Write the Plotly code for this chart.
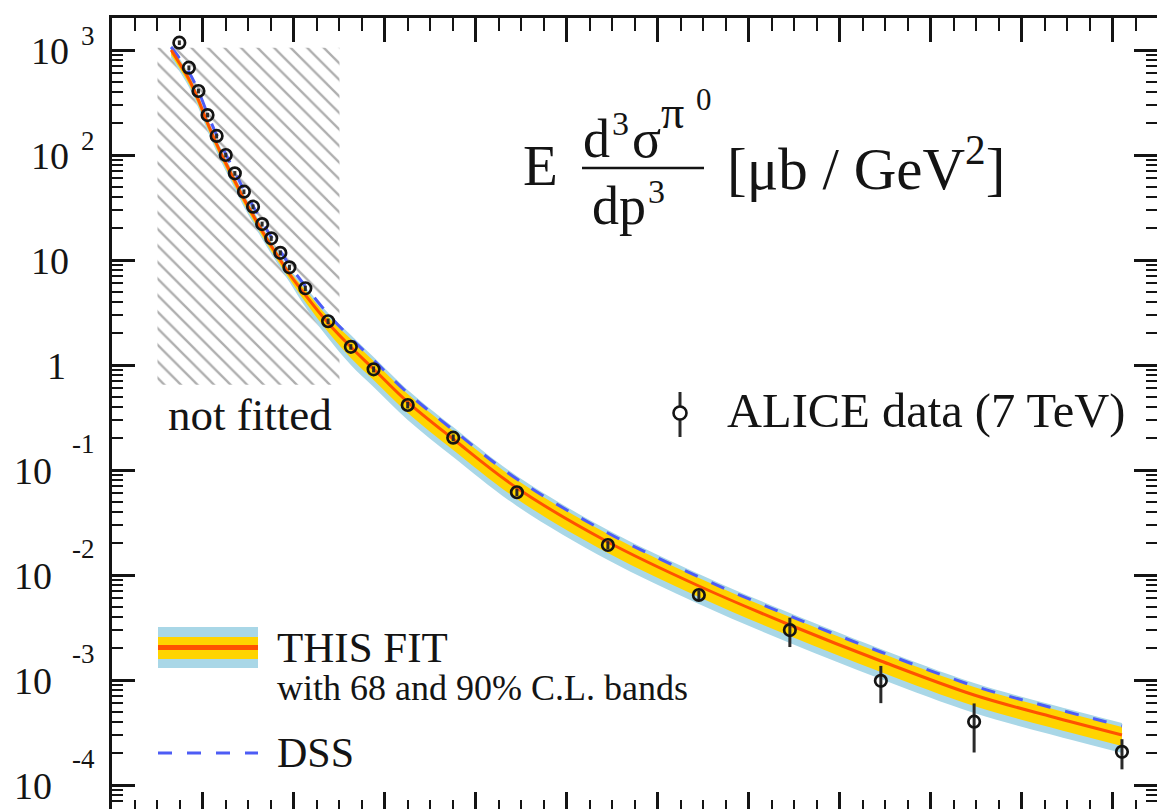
import math
import plotly.graph_objects as go

# ---------------- data ----------------
# ALICE pi0 invariant cross section at sqrt(s) = 7 TeV  [mub / GeV^2]
pt_data = [1.48, 1.69, 1.9, 2.1, 2.3, 2.5, 2.7, 2.9, 3.1, 3.3, 3.5, 3.7, 3.9,
           4.25, 4.75, 5.25, 5.75, 6.5, 7.5, 8.9, 10.9, 12.9, 14.9, 16.9, 18.95, 22.2]
xsec_data = [1174, 678, 407, 240, 152, 100, 66.9, 44.7, 32.2, 22.0, 16.1, 11.7, 8.52,
             5.38, 2.61, 1.49, 0.910, 0.416, 0.203, 0.0614, 0.0193, 0.00645, 0.00299,
             0.000982, 0.000401, 0.000207]
xsec_err = [60, 35, 21, 12, 8, 5, 3.4, 2.3, 1.7, 1.2, 0.9, 0.65, 0.5,
            0.32, 0.16, 0.09, 0.06, 0.03, 0.015, 0.005, 0.0017, 0.0007, 0.00093,
            0.00038, 0.000197, 0.000066]

# fit result (central value, 68% and 90% C.L. bands) and DSS
pt_curve = [1.3, 1.48, 1.69, 1.9, 2.1, 2.3, 2.5, 2.7, 2.9, 3.1, 3.3, 3.5, 3.7, 3.9,
            4.25, 4.75, 5.25, 5.75, 6.5, 7.5, 8.9, 10.9, 12.9, 14.9, 16.9, 18.95, 20.6, 22.2]
fit_central = [1000, 751.8, 529.4, 334.1, 201.7, 127.3, 83.9, 56.55, 38.11, 26.83, 18.89, 13.59, 10.0, 7.356,
               4.642, 2.512, 1.484, 0.9161, 0.4441, 0.1973, 0.06741, 0.02063, 0.007858, 0.003341,
               0.001517, 0.0007197, 0.000454, 0.0002994]
band68_hi = [1068, 802.9, 565.4, 356.8, 215.4, 136.0, 89.6, 60.4, 40.70, 28.65, 20.17, 14.51, 10.68, 7.856,
             5.180, 2.865, 1.769, 1.092, 0.5294, 0.2352, 0.08035, 0.02459, 0.009367, 0.003982,
             0.001808, 0.0008579, 0.0005412, 0.0003569]
band68_lo = [896, 673.6, 474.3, 299.4, 180.7, 114.1, 75.2, 50.67, 34.15, 24.04, 16.93, 12.18, 8.96, 6.591,
             3.981, 2.062, 1.166, 0.7197, 0.3489, 0.1550, 0.05296, 0.01621, 0.006173, 0.002625,
             0.001192, 0.0005654, 0.0003567, 0.0002352]
band90_hi = [1116, 839.0, 590.8, 372.9, 225.1, 142.1, 93.6, 63.1, 42.53, 29.94, 21.08, 15.17, 11.16, 8.209,
             5.533, 3.127, 1.931, 1.192, 0.5778, 0.2567, 0.0877, 0.02684, 0.01022, 0.004347,
             0.001974, 0.0009363, 0.0005907, 0.0003895]
band90_lo = [839.1, 630.8, 444.2, 280.3, 169.2, 106.8, 70.4, 47.45, 31.98, 22.51, 15.85, 11.40, 8.391, 6.172,
             3.568, 1.808, 1.000, 0.6175, 0.2993, 0.1330, 0.04543, 0.01390, 0.005296, 0.002252,
             0.001022, 0.0004851, 0.000306, 0.0002018]
dss = [1068, 839, 617, 407, 245.7, 155.0, 102.2, 68.9, 46.4, 32.7, 23.0, 16.55, 12.18, 8.96,
       5.65, 3.06, 1.808, 1.116, 0.541, 0.2403, 0.0821, 0.02513, 0.00957, 0.00407,
       0.001848, 0.000877, 0.000553, 0.0003647]

# region excluded from the fit
not_fitted_pt = [1.0, 5.0]
not_fitted_xsec = [0.65, 1050]

# axis decades and their labels
decade_vals = [1e3, 1e2, 1e1, 1, 1e-1, 1e-2, 1e-3, 1e-4]
decade_base = ["10", "10", "10", "1", "10", "10", "10", "10"]
decade_exp = ["3", "2", "", "", "-1", "-2", "-3", "-4"]

X_RANGE = [0, 22.97]
Y_RANGE = [-4.2286, 3.3048]

# ---------------- style ----------------
SERIF = "Liberation Serif, Times New Roman, serif"
INK = "#141414"
C90 = "#A9D7E7"
C68 = "#FFD400"
CFIT = "#FF5200"
CDSS = "#4D5CF5"
DSS_DASH = "14px,15px"

W, H = 1157, 809
PL, PT_, PR, PB = 112, 18, 0, 0
PW, PH = W - PL - PR, H - PT_ - PB


def fx(px):
    return (px - PL) / PW


def fy(py):
    return 1 - (py - PT_) / PH


fig = go.Figure()

# hatched "not fitted" region
fig.add_trace(go.Scatter(
    x=[not_fitted_pt[0], not_fitted_pt[1], not_fitted_pt[1], not_fitted_pt[0], not_fitted_pt[0]],
    y=[not_fitted_xsec[0], not_fitted_xsec[0], not_fitted_xsec[1], not_fitted_xsec[1], not_fitted_xsec[0]],
    mode="none", fill="toself", fillcolor="rgba(0,0,0,0)",
    fillpattern=dict(shape="\\", size=11.7, solidity=0.2, fgcolor="#5e5e5e", bgcolor="rgba(0,0,0,0)"),
    hoverinfo="skip", showlegend=False))

# 90% band
fig.add_trace(go.Scatter(x=pt_curve, y=band90_lo, mode="lines", line=dict(width=0, shape="spline", color=C90),
                         hoverinfo="skip", showlegend=False))
fig.add_trace(go.Scatter(x=pt_curve, y=band90_hi, mode="lines", line=dict(width=0, shape="spline", color=C90),
                         fill="tonexty", fillcolor=C90, hoverinfo="skip", showlegend=False))
# 68% band
fig.add_trace(go.Scatter(x=pt_curve, y=band68_lo, mode="lines", line=dict(width=0, shape="spline", color=C68),
                         hoverinfo="skip", showlegend=False))
fig.add_trace(go.Scatter(x=pt_curve, y=band68_hi, mode="lines", line=dict(width=0, shape="spline", color=C68),
                         fill="tonexty", fillcolor=C68, hoverinfo="skip", showlegend=False))
# DSS
fig.add_trace(go.Scatter(x=pt_curve, y=dss, mode="lines",
                         line=dict(width=3, shape="spline", color=CDSS, dash=DSS_DASH),
                         name="DSS", showlegend=False))
# central fit
fig.add_trace(go.Scatter(x=pt_curve, y=fit_central, mode="lines",
                         line=dict(width=3, shape="spline", color=CFIT),
                         name="THIS FIT", showlegend=False))
# data
fig.add_trace(go.Scatter(
    x=pt_data, y=xsec_data, mode="markers",
    marker=dict(symbol="circle-open", size=11.5, color=INK, line=dict(width=2.7, color=INK)),
    error_y=dict(type="data", array=xsec_err, visible=True, width=0, thickness=3, color="#2a2a2a"),
    name="ALICE data (7 TeV)", showlegend=False))

# carrier for the mirrored top / right axes
fig.add_trace(go.Scatter(x=[None], y=[None], xaxis="x2", yaxis="y2", showlegend=False, hoverinfo="skip"))

# ---------------- axes ----------------
common_x = dict(range=X_RANGE, dtick=2, tick0=0, showgrid=False, zeroline=False, showticklabels=False,
                ticks="inside", tickwidth=2.5, tickcolor=INK, linecolor=INK, linewidth=3)
common_y = dict(type="log", range=Y_RANGE, dtick=1, showgrid=False, zeroline=False, showticklabels=False,
                ticks="inside", ticklen=23, tickwidth=2.5, tickcolor=INK, linecolor=INK, linewidth=3,
                minor=dict(ticks="inside", ticklen=11, tickwidth=2, tickcolor=INK, dtick="D1", showgrid=False))

fig.update_layout(
    width=W, height=H,
    margin=dict(l=PL, r=PR, t=PT_, b=PB, pad=0),
    paper_bgcolor="white", plot_bgcolor="white",
    font=dict(family=SERIF, color=INK),
    showlegend=False,
    xaxis=dict(**common_x, side="bottom", showline=False, ticklen=17,
               minor=dict(ticks="inside", ticklen=9, tickwidth=2, tickcolor=INK, dtick=0.5, showgrid=False)),
    xaxis2=dict(**common_x, side="top", overlaying="x", anchor="y", showline=True, ticklen=24,
                minor=dict(ticks="inside", ticklen=13, tickwidth=2, tickcolor=INK, dtick=0.5, showgrid=False)),
    yaxis=dict(**common_y, side="left", showline=True),
    yaxis2=dict(**common_y, side="right", overlaying="y", anchor="x", showline=True),
)

annotations = []


def text(t, x_px, y_px, size, anchor="left"):
    annotations.append(dict(text=t, x=fx(x_px), y=fy(y_px), xref="paper", yref="paper",
                            xanchor=anchor, yanchor="middle", showarrow=False,
                            font=dict(size=size, family=SERIF, color=INK)))


# y tick labels: "10" with a raised exponent
for val, base, ex in zip(decade_vals, decade_base, decade_exp):
    neg = ex.startswith("-")
    right_px = 54 if neg else (68 if base == "1" else 71)
    annotations.append(dict(text=base, x=fx(right_px), y=math.log10(val), xref="paper", yref="y",
                            xanchor="right", yanchor="middle", yshift=-1, showarrow=False,
                            font=dict(size=38, family=SERIF, color=INK)))
    if ex:
        annotations.append(dict(text=ex, x=fx(70 if neg else 79), y=math.log10(val), xref="paper", yref="y",
                                xanchor="left", yanchor="middle", yshift=26 if neg else 14, showarrow=False,
                                font=dict(size=27, family=SERIF, color=INK)))

# quantity label  E d^3 sigma^{pi0} / dp^3 [mub / GeV^2]
text("E", 521, 165, 57)
text("d", 581, 139, 54)
text("3", 610, 123.5, 34)
text("σ", 630, 139, 54)
text("π", 659, 112, 46)
text("0", 694, 99, 31)
text("dp", 590, 206, 54)
text("3", 646, 191.5, 34)
text("[μb / GeV<sup>2</sup>]", 725, 164, 59)

# annotations inside the frame
text("not fitted", 250, 415, 45, anchor="center")
text("ALICE data (7 TeV)", 725, 411, 48.5)
text("THIS FIT", 275, 647.5, 43)
text("with 68 and 90% C.L. bands", 275, 688, 36)
text("DSS", 275, 753, 42)

fig.update_layout(annotations=annotations)

# legend glyphs and fraction bar
shapes = [
    dict(type="line", xref="paper", yref="paper", x0=fx(582), x1=fx(704), y0=fy(168), y1=fy(168),
         line=dict(color=INK, width=2.5)),
    dict(type="rect", xref="paper", yref="paper", x0=fx(158), x1=fx(258), y0=fy(668), y1=fy(627),
         fillcolor=C90, line=dict(width=0)),
    dict(type="rect", xref="paper", yref="paper", x0=fx(158), x1=fx(258), y0=fy(659), y1=fy(637),
         fillcolor=C68, line=dict(width=0)),
    dict(type="line", xref="paper", yref="paper", x0=fx(158), x1=fx(258), y0=fy(647.5), y1=fy(647.5),
         line=dict(color=CFIT, width=5)),
    dict(type="line", xref="paper", yref="paper", x0=fx(158), x1=fx(258), y0=fy(753), y1=fy(753),
         line=dict(color=CDSS, width=3, dash=DSS_DASH)),
    dict(type="line", xref="paper", yref="paper", x0=fx(680), x1=fx(680), y0=fy(437), y1=fy(392),
         line=dict(color="#2a2a2a", width=3)),
    dict(type="circle", xref="paper", yref="paper", x0=fx(673.5), x1=fx(686.5), y0=fy(419.5), y1=fy(406.5),
         fillcolor="white", line=dict(color=INK, width=2.6)),
]
fig.update_layout(shapes=shapes)

fig.write_html("out.html")
